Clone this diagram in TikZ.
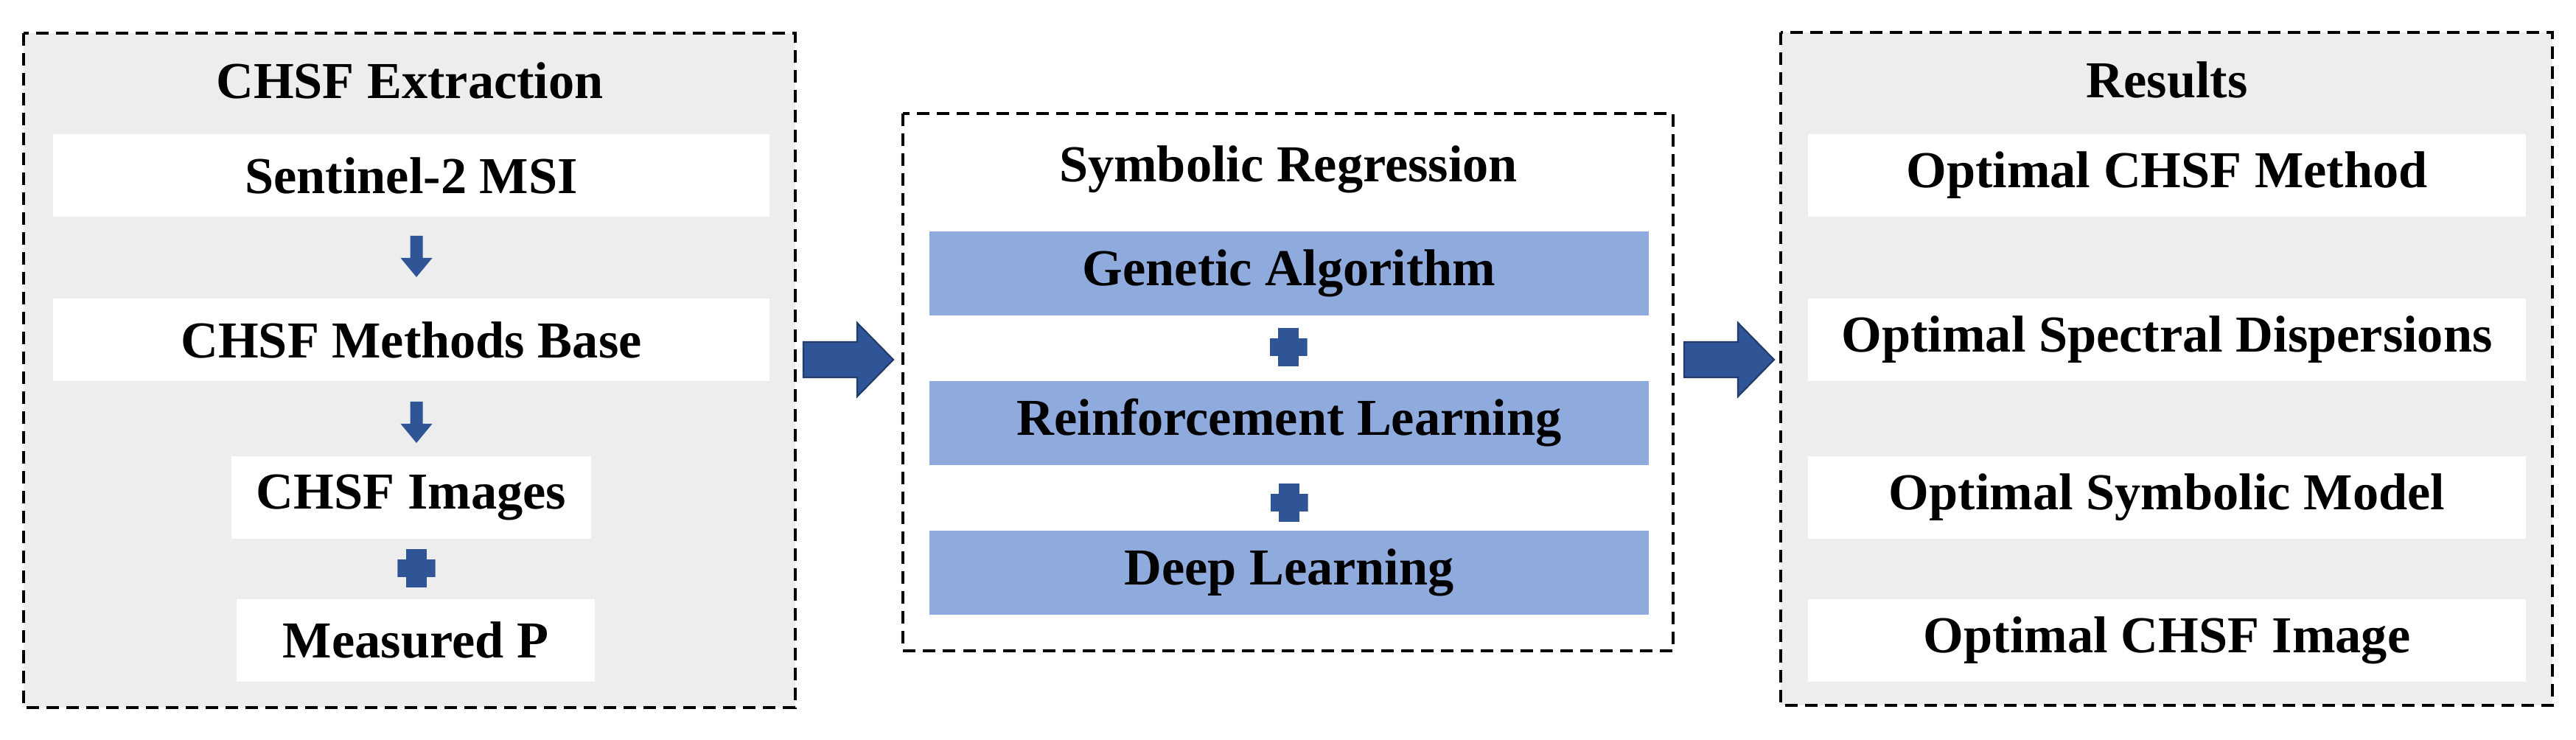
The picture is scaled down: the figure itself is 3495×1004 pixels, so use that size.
\documentclass[tikz,border=0pt]{standalone}
\usepackage{fontspec}
\setmainfont{Liberation Serif}
\definecolor{panelgray} {RGB} {237, 237, 237}
\definecolor{stepblue} {RGB} {143, 170, 220}
\definecolor{arrowblue} {RGB} {47, 85, 151}
\tikzstyle{flow}=[
  x=0.01cm, y=-0.01cm, font=\fontsize{20}{24}\selectfont\bfseries
]
\tikzstyle{panel}=[
  draw, line width=1.2pt, dash pattern=on 0.17cm off 0.1cm
]
\tikzstyle{stepbox}=[
  fill=white, inner sep=0pt, minimum height=1.12cm
]
\tikzstyle{srbox}=[
  stepbox, fill=stepblue, minimum width=9.76cm, minimum height=1.14cm
]
\tikzstyle{downarrow}=[
  fill=arrowblue
]
\tikzstyle{bigarrow}=[
  fill=arrowblue, draw=arrowblue!70!black, line width=0.6pt
]
\tikzstyle{plus}=[
  minimum size=0.51cm, inner sep=0pt,
  path picture={
    \fill[arrowblue] ([xshift=-0.14cm]path picture bounding box.north) rectangle ([xshift=0.14cm]path picture bounding box.south);
    \fill[arrowblue] ([yshift=-0.12cm]path picture bounding box.west) rectangle ([yshift=0.12cm]path picture bounding box.east);
  }
]

\begin{document}
\begin{tikzpicture}[flow]
\useasboundingbox (0,0) rectangle (3495,1004);
% panels
\draw [panel, fill=panelgray] (32,45) rectangle (1079,960);
\draw [panel, fill=white] (1225,154) rectangle (2270,883);
\draw [panel, fill=panelgray] (2416,44) rectangle (3463,957);

% CHSF extraction
\node (ext title) at (556,109) {CHSF Extraction};
\node (msi) [stepbox, minimum width=9.71cm] at (558,238) {Sentinel-2 MSI};
\node (base) [stepbox, minimum width=9.71cm] at (558,461) {CHSF Methods Base};
\node (img) [stepbox, minimum width=4.87cm] at (558,675) {CHSF Images};
\node (meas) [stepbox, minimum width=4.86cm] at (564,869) {Measured P};
\coordinate (down1) at (565,320);
\coordinate (down2) at (565,545);
\foreach \a in {down1, down2}
  \fill [downarrow] (\a) ++(-8.5,0) -- ++(17,0) -- ++(0,30) -- ++(13,0)
    -- ++(-21.5,26) -- ++(-21.5,-26) -- ++(13,0) -- cycle;
\node (plus1) [plus] at (565,771) {};

% symbolic regression
\node (sr title) at (1748,230) {Symbolic Regression};
\node (ga) [srbox] at (1749,371) {Genetic Algorithm};
\node (rl) [srbox] at (1749,574) {Reinforcement Learning};
\node (dl) [srbox] at (1749,777) {Deep Learning};
\node (plus2) [plus] at (1748,471) {};
\node (plus3) [plus] at (1749,682) {};

% results
\node (res title) at (2940,109) {Results};
\node (res1) [stepbox, minimum width=9.73cm] at (2940,238) {Optimal CHSF Method};
\node (res2) [stepbox, minimum width=9.73cm] at (2940,461) {Optimal Spectral Dispersions};
\node (res3) [stepbox, minimum width=9.73cm] at (2940,675) {Optimal Symbolic Model};
\node (res4) [stepbox, minimum width=9.73cm] at (2940,869) {Optimal CHSF Image};

\coordinate (go1) at (1090,488);
\coordinate (go2) at (2285,488);
\foreach \a in {go1, go2}
  \draw [bigarrow] (\a) ++(0,-24) -- ++(73,0) -- ++(0,-26) -- ++(49,50)
    -- ++(-49,50) -- ++(0,-26) -- ++(-73,0) -- cycle;
\end{tikzpicture}
\end{document}
